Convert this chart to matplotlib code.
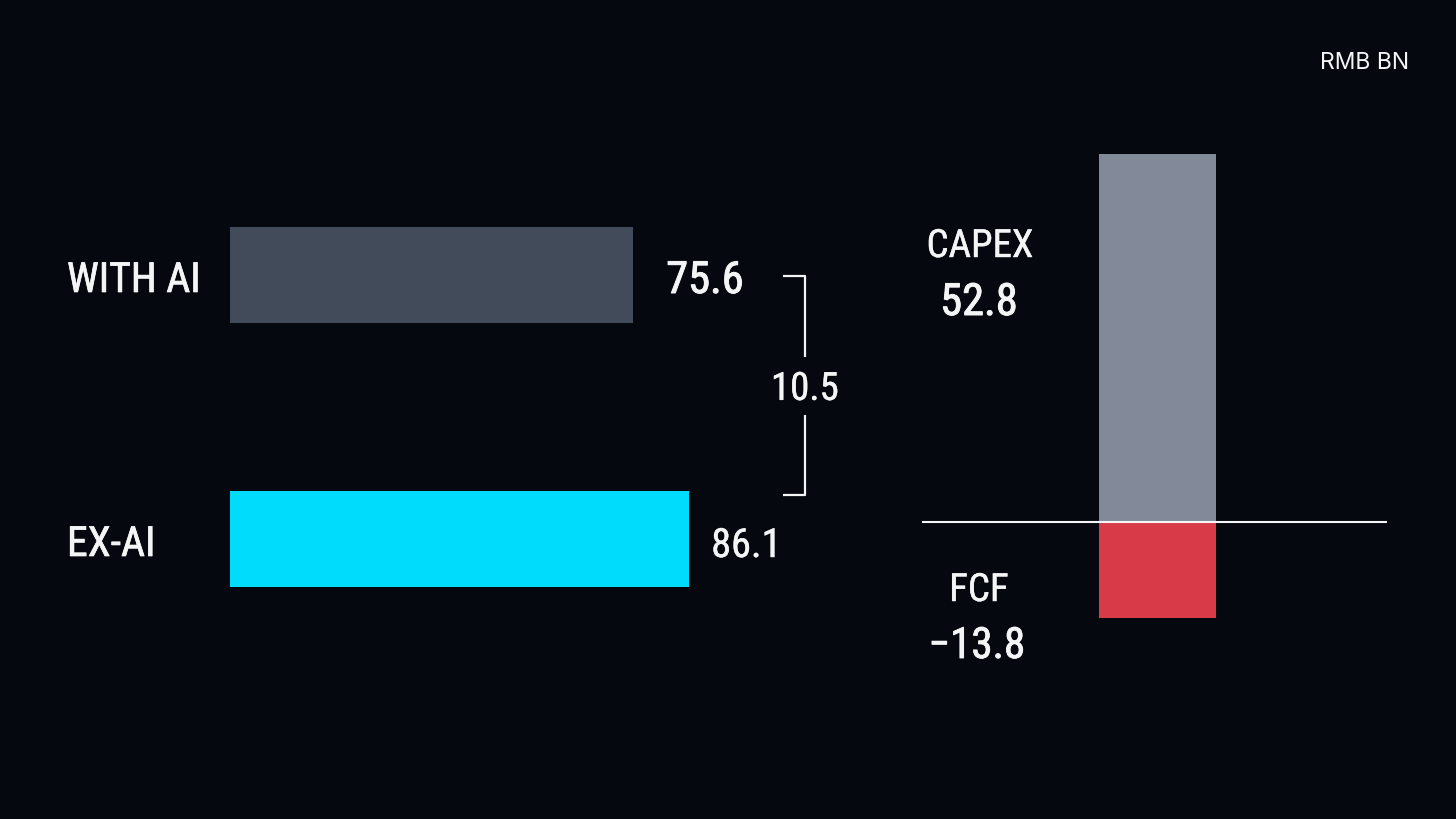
import matplotlib
matplotlib.use("Agg")
import matplotlib.pyplot as plt
import matplotlib.patheffects as pe
from matplotlib import font_manager
from matplotlib.font_manager import FontProperties

# data
bar_labels = ["WITH AI", "EX-AI"]
bar_values = [75.6, 86.1]
gap_value = 10.5
col_labels = ["CAPEX", "FCF"]
col_values = [52.8, -13.8]
unit_label = "RMB BN"

BG = "#05080f"
WHITE = "#f4f5f7"

# condensed face (Roboto Condensed if it is there)
files = [f.fname for f in font_manager.fontManager.ttflist]


def find_face(keys):
    for k in keys:
        hits = [f for f in files if k in f.split("/")[-1] and "Italic" not in f]
        if hits:
            return FontProperties(fname=sorted(hits, key=len)[0])
    return None


reg = find_face(["RobotoCondensed-Regular", "RobotoCondensed"]) \
    or FontProperties(family="Roboto")


def fp(size):
    p = reg.copy()
    p.set_size(size)
    return p


def thick(w):
    # a thin outline in the text colour, to get the in-between weight
    return [pe.withStroke(linewidth=w, foreground=WHITE)]


W, H = 1456, 819
fig = plt.figure(figsize=(W / 100, H / 100), dpi=100, facecolor=BG)


def px_axes(x0, y0, x1, y1):
    # axes placed by pixel box (top-left origin)
    return fig.add_axes([x0 / W, 1 - y1 / H, (x1 - x0) / W, (y1 - y0) / H])


# left: horizontal bars
ax = px_axes(230, 143, 870, 671)
ax.set_facecolor("none")
ax.set_xlim(0, 120)
ax.set_ylim(1.5, -0.5)
ax.axis("off")
ypos = [0, 1]
ax.barh(ypos, bar_values, height=0.364, color=["#424b59", "#00dcfc"], left=0)

for y, lab in zip(ypos, bar_labels):
    ax.annotate(lab, (0, y), xytext=(-163, -17), textcoords="offset pixels",
                ha="left", va="baseline", color=WHITE, fontproperties=fp(30),
                path_effects=thick(0.5))

ax.annotate(f"{bar_values[0]}", (bar_values[0], 0), xytext=(33, -18),
            textcoords="offset pixels", ha="left", va="baseline", color=WHITE,
            fontproperties=fp(32), path_effects=thick(0.7))
ax.annotate(f"{bar_values[1]}", (bar_values[1], 1), xytext=(22, -18),
            textcoords="offset pixels", ha="left", va="baseline", color=WHITE,
            fontproperties=fp(29), path_effects=thick(0.3))

# bracket for the gap
bx, tx = 107.8, 103.6
y_top, y_bot = 0.004, 0.833
kw = dict(color=WHITE, lw=1.6, clip_on=False, solid_capstyle="butt")
ax.plot([tx, bx, bx], [y_top, y_top, 0.31], **kw)
ax.plot([bx, bx, tx], [0.53, y_bot, y_bot], **kw)
ax.annotate(f"{gap_value}", (bx, 0.42), xytext=(0, -14), textcoords="offset pixels",
            ha="center", va="baseline", color=WHITE, fontproperties=fp(28),
            path_effects=thick(0.3))

# right: vertical bars around a zero baseline
ax2 = px_axes(922, 100, 1387, 720)
ax2.set_facecolor("none")
ax2.set_xlim(0, 1)
ax2.set_ylim(-28.4, 60.5)
ax2.axis("off")
ax2.bar([0.506, 0.506], col_values, width=0.252, color=["#828998", "#d83a48"])
ax2.axhline(0, color=WHITE, lw=1.5)


def ftext(x, y, s, prop, w=0.0, ha="center"):
    fig.text(x / W, 1 - y / H, s, ha=ha, va="baseline", color=WHITE,
             fontproperties=prop, path_effects=thick(w) if w else None)


ftext(980, 257, col_labels[0], fp(28), 0.3)
ftext(979, 315, f"{col_values[0]}", fp(32), 0.7)
ftext(979, 601, col_labels[1], fp(28), 0.3)
ftext(977, 658, f"\u2212{abs(col_values[1])}", fp(31), 0.6)

ftext(1409, 69, unit_label, FontProperties(family="Inter", size=16.5), ha="right")

fig.savefig("out.png", dpi=100, facecolor=BG)
